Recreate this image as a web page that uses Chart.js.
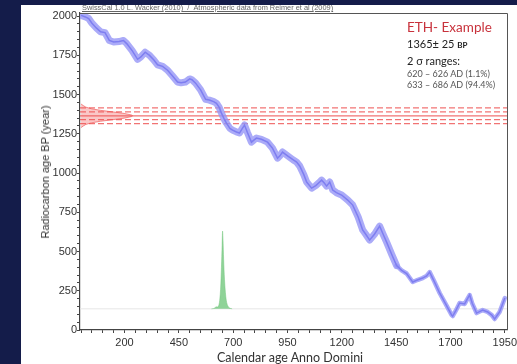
<!DOCTYPE html>
<html>
<head>
<meta charset="utf-8">
<script src="https://cdn.jsdelivr.net/npm/chart.js@4.4.1/dist/chart.umd.min.js"></script>
<style>
  html, body { margin: 0; padding: 0; }
  body { width: 517px; height: 364px; background: #141c4a; position: relative; overflow: hidden; font-family: "Liberation Sans", Arial, sans-serif; }
  #panel { position: absolute; left: 21px; top: 5px; width: 496px; height: 359px; background: #fff; }
  #wrap { position: absolute; left: 0; top: 0; width: 517px; height: 364px; }
  .txt { position: absolute; white-space: nowrap; }
  #head { left: 82px; top: 3px; font-size: 7.4px; color: #666; text-decoration: underline; }
  #ytitle { left: 45px; top: 172px; font-size: 11px; color: #333; transform: translate(-50%, -50%) rotate(-90deg); }
  #xtitle { left: 290px; top: 350px; font-family: Lato, sans-serif; font-size: 12.5px; color: #333; transform: translateX(-50%); }
  #info { left: 407px; top: 18px; font-family: Lato, sans-serif; color: #222; }
  #info .t { color: #c8323c; font-size: 13.5px; line-height: 18px; }
  #info .m { font-size: 11px; line-height: 16px; }
  #info .m b { font-size: 8px; }
  #info .s { font-size: 11px; line-height: 14px; margin-top: 1px; }
  #info .r { font-size: 9px; color: #555; line-height: 11px; }
</style>
</head>
<body>
<div id="panel"></div>
<div id="wrap"><canvas id="c"></canvas></div>
<div class="txt" id="head">SwissCal 1.0 L. Wacker (2010)&nbsp; / &nbsp;Atmospheric data from Reimer et al (2009)</div>
<div class="txt" id="ytitle">Radiocarbon age BP (year)</div>
<div class="txt" id="xtitle">Calendar age Anno Domini</div>
<div class="txt" id="info">
  <div class="t">ETH- Example</div>
  <div class="m">1365± 25 <b>BP</b></div>
  <div class="s">2 σ ranges:</div>
  <div class="r">620 – 626 AD (1.1%)</div>
  <div class="r">633 – 686 AD (94.4%)</div>
</div>
<script>
// calibration curve (calendar AD -> radiocarbon BP)
const calYear = [0, 20, 35, 50, 70, 90, 110, 130, 150, 175, 195, 210, 235, 260, 275, 295, 315, 335, 352, 375,
  398, 420, 444, 460, 480, 500, 510, 527, 550, 573, 590, 610, 623, 635, 646, 660, 669, 685, 697, 715,
  729, 740, 752, 765, 784, 795, 807, 830, 858, 880, 904, 915, 927, 950, 975, 992, 1006, 1025, 1038, 1061,
  1080, 1098, 1107, 1120, 1130, 1144, 1158, 1175, 1199, 1227, 1250, 1275, 1296, 1310, 1328, 1350, 1374, 1390, 1406, 1430,
  1452, 1475, 1498, 1526, 1550, 1572, 1590, 1604, 1625, 1650, 1680, 1705, 1710, 1725, 1742, 1765, 1788, 1800, 1820, 1848,
  1871, 1890, 1903, 1926, 1950];
const calBP = [2005, 1995, 1985, 1955, 1925, 1900, 1895, 1845, 1835, 1838, 1845, 1825, 1780, 1725, 1740, 1770, 1750, 1720, 1690, 1680,
  1655, 1620, 1580, 1575, 1580, 1600, 1595, 1573, 1530, 1470, 1465, 1455, 1445, 1420, 1382, 1340, 1318, 1285, 1274, 1262,
  1255, 1280, 1306, 1260, 1197, 1210, 1223, 1215, 1197, 1160, 1095, 1110, 1134, 1110, 1085, 1070, 1045, 990, 943, 904,
  920, 943, 955, 935, 917, 943, 892, 875, 860, 828, 796, 720, 637, 610, 573, 610, 662, 610, 560, 480,
  410, 380, 360, 306, 320, 331, 345, 369, 310, 236, 160, 96, 89, 125, 172, 166, 223, 170, 108, 127,
  115, 95, 70, 115, 204];

// calibrated probability (drawn above a baseline on the BP axis)
const probBase = 135;
const probYear = [600, 610, 616, 622, 628, 634, 638, 642, 646, 649, 651, 653, 656, 660, 664, 668, 673, 679, 686, 695];
const probBP = [135, 137, 142, 148, 146, 158, 190, 260, 400, 540, 630, 580, 450, 320, 240, 190, 160, 145, 138, 135];

// measured radiocarbon age 1365 +- 25 BP
const measLines = [1315, 1340, 1365, 1390, 1415];
const measDash = [true, true, false, true, true];
const gaussBP = [1290, 1300, 1310, 1320, 1330, 1340, 1350, 1360, 1365, 1370, 1380, 1390, 1400, 1410, 1420, 1430, 1440];
const gaussYear = [0, 10, 22, 47, 88, 144, 198, 232, 237, 232, 198, 144, 88, 47, 22, 10, 0];

const xTickLabels = [200, 450, 700, 950, 1200, 1450, 1700, 1950];
const yTickLabels = [0, 250, 500, 750, 1000, 1250, 1500, 1750, 2000];
const xMin = -5, xMax = 1960, yMin = 0, yMax = 2020;

const pts = (xs, ys) => xs.map((x, i) => ({ x, y: ys[i] }));

const datasets = [];
// curve: core line on top of a wide light band
datasets.push({ data: pts(calYear, calBP), borderColor: "#7e7ef0", borderWidth: 1.5, pointRadius: 0, showLine: true });
datasets.push({
  data: pts(calYear, calBP), borderColor: "rgba(150,150,246,0.8)", borderWidth: 7, pointRadius: 0, showLine: true,
  borderJoinStyle: "round", borderCapStyle: "round",
  segment: { borderWidth: (ctx) => (ctx.p0.parsed.x > 1440 ? 4.5 : 7) },
});
measLines.forEach((v, i) => {
  datasets.push({
    data: [{ x: xMin, y: v }, { x: xMax, y: v }], borderColor: "rgba(238,80,80,0.8)", borderWidth: 1.3,
    borderDash: measDash[i] ? [6, 3] : [], pointRadius: 0, showLine: true,
  });
});
datasets.push({
  data: pts(gaussYear, gaussBP), borderColor: "rgba(240,100,100,0.75)", borderWidth: 1,
  backgroundColor: "rgba(245,130,130,0.45)", fill: "shape", pointRadius: 0, showLine: true,
});
datasets.push({
  data: pts(probYear, probBP), borderColor: "rgba(110,195,120,0.8)", borderWidth: 0.6, tension: 0.3,
  backgroundColor: "rgba(105,196,118,0.75)", fill: { value: probBase }, pointRadius: 0, showLine: true,
});
datasets.push({ data: [{ x: xMin, y: probBase }, { x: xMax, y: probBase }], borderColor: "#e6e6e6", borderWidth: 1, pointRadius: 0, showLine: true });

const minor = (a, b) => { const t = []; for (let v = a; v <= b; v += 50) t.push({ value: v }); return t; };

const boxPlugin = {
  id: "box",
  afterDraw(chart) {
    const { ctx, chartArea: a } = chart;
    ctx.save();
    ctx.strokeStyle = "#555";
    ctx.lineWidth = 1;
    ctx.beginPath();
    ctx.moveTo(a.left, a.top + 0.5); ctx.lineTo(a.right + 0.5, a.top + 0.5); ctx.lineTo(a.right + 0.5, a.bottom);
    ctx.stroke();
    ctx.restore();
  },
};

const tickFont = { family: "'Liberation Sans', Arial, sans-serif", size: 11 };

new Chart(document.getElementById("c"), {
  type: "scatter",
  data: { datasets },
  plugins: [boxPlugin],
  options: {
    responsive: true, maintainAspectRatio: false, animation: false,
    layout: { padding: { top: 13, right: 10, left: 0, bottom: 0 } },
    plugins: { legend: { display: false }, tooltip: { enabled: false } },
    scales: {
      x: {
        min: xMin, max: xMax,
        afterBuildTicks: (s) => { s.ticks = minor(0, 1950); },
        afterFit: (s) => { s.height = 34; s.paddingLeft = 0; s.paddingRight = 0; },
        grid: { drawOnChartArea: false, tickLength: 3, tickColor: "#444" },
        border: { color: "#444", width: 1.2 },
        ticks: { color: "#333", font: tickFont, padding: 3, maxRotation: 0, autoSkip: false,
          callback: (v) => (xTickLabels.includes(v) ? String(v) : "") },
      },
      y: {
        min: yMin, max: yMax,
        afterBuildTicks: (s) => { s.ticks = minor(0, 2000); },
        afterFit: (s) => { s.width = 80; s.paddingTop = 0; s.paddingBottom = 0; },
        grid: { drawOnChartArea: false, tickLength: 3, tickColor: "#444" },
        border: { color: "#444", width: 1.2 },
        ticks: { color: "#333", font: tickFont, padding: 0, autoSkip: false,
          callback: (v) => (yTickLabels.includes(v) ? String(v) : "") },
      },
    },
  },
});
</script>
</body>
</html>
